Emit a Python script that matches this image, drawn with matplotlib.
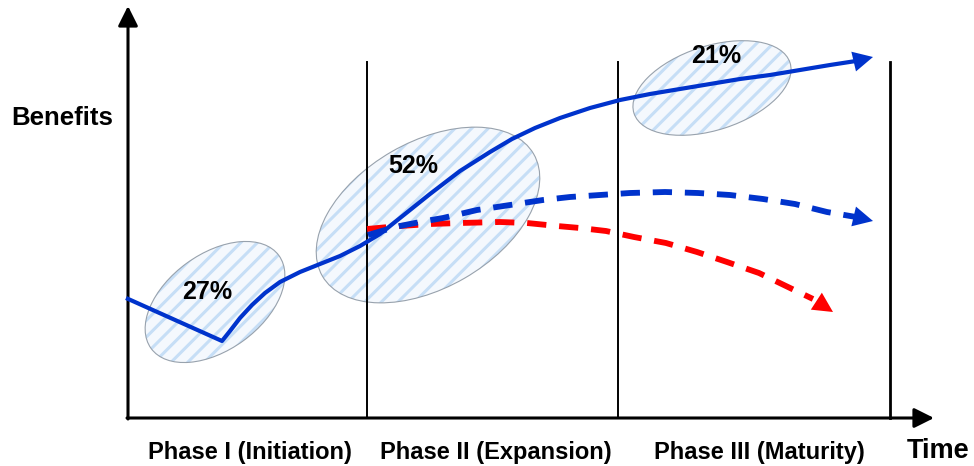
import matplotlib
matplotlib.use('Agg')
import matplotlib.pyplot as plt
from matplotlib.patches import Ellipse

plt.rcParams['hatch.linewidth'] = 2.2

# curve samples (x = time, y = benefit level, screen-style units, y grows downward)
# last point of each curve is the arrow tip
solid_x = [126, 222, 230, 240, 252, 265, 280, 300, 320, 340, 360, 380, 395, 410, 430, 460,
           490, 512, 535, 560, 590, 620, 650, 680, 710, 740, 770, 800, 830, 856, 873]
solid_y = [298, 341, 331, 318, 305, 293, 282, 272, 264, 256, 246, 234, 222, 210, 194, 171,
           152, 139, 128, 118, 108, 100, 94, 89, 84, 79, 75, 70, 65, 61, 57]

blue_dash_x = [368, 385, 400, 420, 443, 460, 477, 510, 543, 570, 600, 630, 665, 698, 730,
               763, 795, 827, 856, 873]
blue_dash_y = [235, 230, 226, 222, 218, 214, 210, 205, 200, 197, 195, 193, 192, 193, 195,
               199, 204, 212, 217, 221]

red_dash_x = [367, 400, 430, 460, 500, 527, 557, 580, 606, 634, 666, 697, 727, 759, 788, 813, 833]
red_dash_y = [229, 226, 224, 223, 222, 223, 226, 228, 231, 237, 243, 252, 262, 273, 287, 299, 312]

# benefit share per phase: label, position, blob centre, size, tilt
shares = ['27%', '52%', '21%']
share_pos = [(207, 299), (413, 173), (716, 63)]
blob_center = [(215, 302), (428, 215), (712, 88)]
blob_size = [(158, 96), (244, 146), (164, 84)]
blob_angle = [-36, -30, -18]

phase_labels = ['Phase I (Initiation)', 'Phase II (Expansion)', 'Phase III (Maturity)']
phase_label_x = [250, 496, 759]
phase_edges = [367, 618, 890]

BLUE = '#0033cc'
RED = '#ff0000'


def arrow_curve(ax, xs, ys, color, z, dashed=False):
    kw = dict(dashes=(3.3, 2.2)) if dashed else dict(solid_capstyle='butt')
    ax.plot(xs[:-1], ys[:-1], color=color, lw=4.2 if dashed else 3.0, zorder=z, **kw)
    ax.annotate('', xy=(xs[-1], ys[-1]), xytext=(xs[-2], ys[-2]), zorder=z,
                arrowprops=dict(arrowstyle='-|>,head_length=0.55,head_width=0.28',
                                color=color, lw=0, mutation_scale=26,
                                shrinkA=0, shrinkB=0))


def main():
    fig = plt.figure(figsize=(9.74, 4.66), dpi=100)
    ax = fig.add_axes([0, 0, 1, 1])
    ax.set_xlim(0, 974)
    ax.set_ylim(466, 0)
    ax.axis('off')

    # shaded ellipses
    for c, (w, h), a in zip(blob_center, blob_size, blob_angle):
        ax.add_patch(Ellipse(c, w, h, angle=a, facecolor='#f4f8fd', edgecolor='none', zorder=1))
        ax.add_patch(Ellipse(c, w, h, angle=a, facecolor='none', edgecolor='#c6def6',
                             hatch='//', lw=0, zorder=1.1))
        ax.add_patch(Ellipse(c, w, h, angle=a, facecolor='none', edgecolor='#98a2ad',
                             lw=0.8, zorder=1.2))

    # axes with arrow heads
    ax.annotate('', xy=(128, 6), xytext=(128, 419),
                arrowprops=dict(arrowstyle='-|>,head_length=0.6,head_width=0.3', color='black',
                                lw=2.2, mutation_scale=20, shrinkA=0, shrinkB=0))
    ax.annotate('', xy=(934, 418), xytext=(127, 418),
                arrowprops=dict(arrowstyle='-|>,head_length=0.6,head_width=0.3', color='black',
                                lw=2.2, mutation_scale=20, shrinkA=0, shrinkB=0))

    # phase boundaries
    for i, x in enumerate(phase_edges):
        ax.plot([x, x], [62, 418], color='black', lw=1.4 if i < 2 else 2.0, zorder=2)

    # scenario curves
    arrow_curve(ax, red_dash_x, red_dash_y, RED, 3, dashed=True)
    arrow_curve(ax, blue_dash_x, blue_dash_y, BLUE, 4, dashed=True)
    arrow_curve(ax, solid_x, solid_y, BLUE, 5)

    font = ['Liberation Sans', 'DejaVu Sans']
    for s, (x, y) in zip(shares, share_pos):
        ax.text(x, y, s, ha='center', va='baseline', fontsize=18, fontweight='bold',
                family=font, zorder=6)

    ax.text(62, 125, 'Benefits', ha='center', va='baseline', fontsize=18.5, fontweight='bold',
            family=font)
    for lab, x in zip(phase_labels, phase_label_x):
        ax.text(x, 459, lab, ha='center', va='baseline', fontsize=17, fontweight='bold',
                family=font)
    ax.text(938, 458, 'Time', ha='center', va='baseline', fontsize=19.5, fontweight='bold',
            family=font)

    fig.savefig('out.png', dpi=100)


if __name__ == '__main__':
    main()
